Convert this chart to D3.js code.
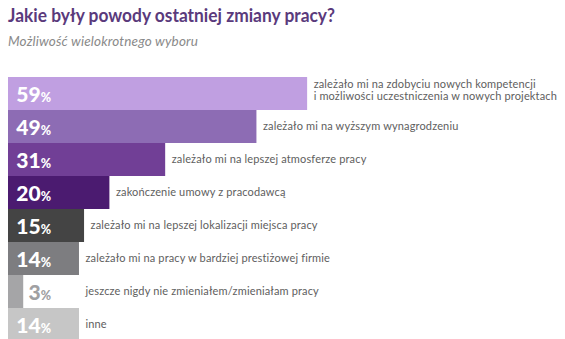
<!DOCTYPE html>
<html><head><meta charset="utf-8">
<script src="https://cdn.jsdelivr.net/npm/d3@7"></script>
<style>body{margin:0;background:#fff;}svg{display:block;}</style>
</head><body>
<svg id="c" width="565" height="339"></svg>
<script>
const categories = [
  ["zależało mi na zdobyciu nowych kompetencji", "i możliwości uczestniczenia w nowych projektach"],
  ["zależało mi na wyższym wynagrodzeniu"],
  ["zależało mi na lepszej atmosferze pracy"],
  ["zakończenie umowy z pracodawcą"],
  ["zależało mi na lepszej lokalizacji miejsca pracy"],
  ["zależało mi na pracy w bardziej prestiżowej firmie"],
  ["jeszcze nigdy nie zmieniałem/zmieniałam pracy"],
  ["inne"]
];
const values = [59, 49, 31, 20, 15, 14, 3, 14];
const colors = ["#c09fe1", "#8d6cb4", "#713f96", "#4b1b70", "#444444", "#7d7d80", "#a5a5a7", "#c6c6c6"];
const title = "Jakie były powody ostatniej zmiany pracy?";
const subtitle = "Możliwość wielokrotnego wyboru";

const svg = d3.select("#c");
svg.append("text").attr("x", 8).attr("y", 21.5)
  .attr("font-family", "Lato").attr("font-weight", 700).attr("font-size", 18)
  .attr("textLength", 327).attr("lengthAdjust", "spacingAndGlyphs")
  .attr("fill", "#5a3a7c").text(title);
svg.append("text").attr("x", 8).attr("y", 46)
  .attr("font-family", "Lato").attr("font-style", "italic").attr("font-size", 13.5)
  .attr("textLength", 190).attr("lengthAdjust", "spacing")
  .attr("fill", "#8a8a8a").text(subtitle);

const idx = d3.range(values.length);
const x = d3.scaleLinear().domain([0, 100]).range([8, 515]);
const y = d3.scaleBand().domain(idx).range([77, 341]).padding(0);

const g = svg.append("g");
g.selectAll("rect").data(idx).join("rect")
  .attr("x", x(0)).attr("y", i => y(i))
  .attr("width", i => x(values[i]) - x(0)).attr("height", y.bandwidth())
  .attr("fill", i => colors[i]);

const pl = g.selectAll("text.pct").data(idx).join("text").attr("class", "pct")
  .attr("x", 51).attr("y", i => y(i) + y.bandwidth() / 2 + 8)
  .attr("text-anchor", "end").attr("font-family", "Lato").attr("font-weight", 900)
  .attr("fill", i => (x(values[i]) < 51 ? "#a0a0a2" : "#ffffff"));
pl.append("tspan").attr("font-size", 21).text(i => values[i]);
pl.append("tspan").attr("font-size", 12.5).text("%");

const lab = g.selectAll("text.lab").data(idx).join("text").attr("class", "lab")
  .attr("font-family", "Lato").attr("font-size", 11).attr("fill", "#5e5e5e")
  .attr("letter-spacing", 0.15);
lab.each(function(i) {
  const lines = categories[i];
  const lx = Math.max(x(values[i]), x(14)) + 6.5;
  const cy = y(i) + y.bandwidth() / 2 - 1;
  const t = d3.select(this);
  lines.forEach((s, k) => {
    t.append("tspan").attr("x", lx)
      .attr("y", cy + 4 + (k - (lines.length - 1) / 2) * 12 - (lines.length > 1 ? 3 : 0))
      .text(s);
  });
});
</script>
</body></html>
